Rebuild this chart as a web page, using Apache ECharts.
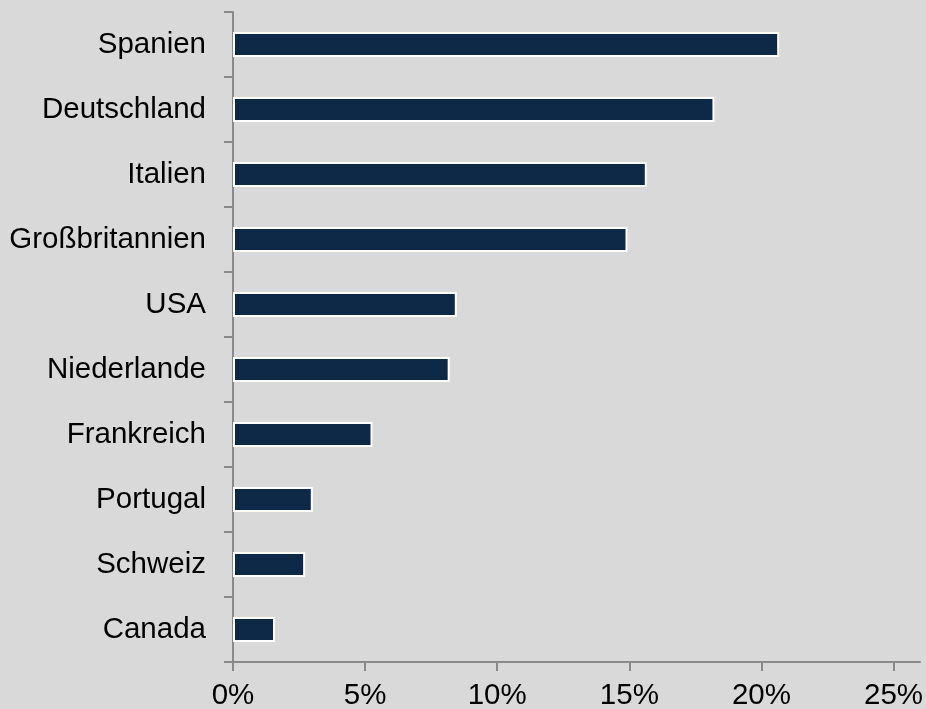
<!DOCTYPE html>
<html>
<head>
<meta charset="utf-8">
<script src="https://cdn.jsdelivr.net/npm/echarts@6/dist/echarts.min.js"></script>
<style>
html,body{margin:0;padding:0;background:#d9d9d9;}
#chart{width:926px;height:709px;}
</style>
</head>
<body>
<div id="chart"></div>
<script>
const categories = ['Spanien','Deutschland','Italien','Großbritannien','USA','Niederlande','Frankreich','Portugal','Schweiz','Canada'];
const values = [20.67, 18.22, 15.66, 14.93, 8.47, 8.20, 5.28, 3.02, 2.73, 1.59];
const tickValues = [0, 5, 10, 15, 20, 25];

const chart = echarts.init(document.getElementById('chart'), null, {renderer:'canvas'});
const font = 'Liberation Sans, Arial, sans-serif';
const axisColor = '#898989';
chart.setOption({
  backgroundColor: '#d9d9d9',
  animation: false,
  grid: {left: 233, right: 6, top: 12, bottom: 47, containLabel: false, outerBoundsMode: 'none'},
  xAxis: {
    type: 'value',
    min: 0,
    max: 26,
    splitLine: {show: false},
    axisLine: {show: true, lineStyle: {color: axisColor, width: 2}},
    axisTick: {show: true, length: 9, lineStyle: {color: axisColor, width: 2}, customValues: tickValues},
    axisLabel: {
      customValues: tickValues,
      formatter: v => v + '%',
      color: '#000', fontFamily: font, fontSize: 29.5, margin: 19
    }
  },
  yAxis: {
    type: 'category',
    inverse: true,
    data: categories,
    axisLine: {show: true, lineStyle: {color: axisColor, width: 2}},
    axisTick: {show: true, length: 9, lineStyle: {color: axisColor, width: 2}},
    axisLabel: {color: '#000', fontFamily: font, fontSize: 29.5, margin: 27}
  },
  series: [{
    type: 'bar',
    data: values,
    barWidth: 25,
    itemStyle: {color: '#0e2948', borderColor: '#ffffff', borderWidth: 2}
  }]
});
</script>
</body>
</html>
